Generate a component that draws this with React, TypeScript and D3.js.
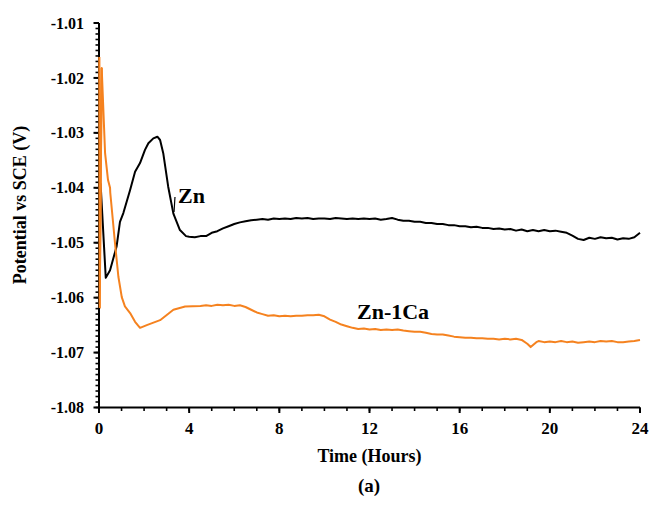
import React from "react";
import * as d3 from "d3";

// Open-circuit potential of Zn (black) and Zn-1Ca (orange) over 24 h
const zincHours = [
  0.07, 0.3, 0.49, 0.78, 0.93, 1.08, 1.38, 1.6, 1.82, 2.04, 2.19, 2.41, 2.59, 2.71,
  2.85, 3.07, 3.3, 3.59, 3.86,
  4.0, 4.25, 4.5, 4.75, 5.0, 5.25, 5.5, 5.75, 6.0, 6.25, 6.5, 6.75, 7.0, 7.25, 7.5, 7.75,
  8.0, 8.25, 8.5, 8.75, 9.0, 9.25, 9.5, 9.75, 10.0, 10.25, 10.5, 10.75, 11.0, 11.25, 11.5, 11.75,
  12.0, 12.25, 12.5, 12.75, 13.0, 13.25, 13.5, 13.75, 14.0, 14.25, 14.5, 14.75, 15.0, 15.25, 15.5, 15.75,
  16.0, 16.25, 16.5, 16.75, 17.0, 17.25, 17.5, 17.75, 18.0, 18.25, 18.5, 18.75, 19.0, 19.25, 19.5, 19.75,
  20.0, 20.25, 20.5, 20.75, 21.0, 21.25, 21.5, 21.75, 22.0, 22.25, 22.5, 22.75, 23.0, 23.25, 23.5, 23.75, 24.0,
];
const zincPotential = [
  -1.0392, -1.0564, -1.055, -1.0507, -1.0462, -1.0446, -1.0404, -1.0371, -1.0355, -1.0331, -1.0319, -1.031, -1.0307, -1.0313,
  -1.0337, -1.0398, -1.0447, -1.0477, -1.0488,
  -1.0489, -1.049, -1.0488, -1.0488, -1.0482, -1.0479, -1.0474, -1.047, -1.0466, -1.0463, -1.0461, -1.0459, -1.0458, -1.0457, -1.0458, -1.0456,
  -1.0457, -1.0456, -1.0457, -1.0455, -1.0456, -1.0455, -1.0457, -1.0456, -1.0456, -1.0457, -1.0455, -1.0456, -1.0457, -1.0456, -1.0457, -1.0456,
  -1.0457, -1.0456, -1.0458, -1.0457, -1.0455, -1.0458, -1.046, -1.046, -1.0462, -1.0462, -1.0464, -1.0464, -1.0466, -1.0466, -1.0468, -1.0468,
  -1.047, -1.047, -1.0472, -1.0471, -1.0473, -1.0473, -1.0475, -1.0474, -1.0476, -1.0475, -1.0478, -1.0476, -1.0479, -1.0477, -1.0479, -1.0477,
  -1.0479, -1.0478, -1.048, -1.0482, -1.0487, -1.0493, -1.0495, -1.0491, -1.0493, -1.049, -1.0492, -1.0491, -1.0494, -1.0492, -1.0493, -1.049, -1.0482,
];

const caHours = [
  0.01, 0.03, 0.12, 0.27, 0.4, 0.49, 0.5, 0.71, 0.86, 1.01, 1.15, 1.38, 1.6, 1.82, 2.12, 2.71, 3.3, 3.82,
  4.5, 4.75, 5.0, 5.25, 5.5, 5.75, 6.0, 6.25, 6.5, 6.75, 7.0, 7.25, 7.5, 7.75,
  8.0, 8.25, 8.5, 8.75, 9.0, 9.25, 9.5, 9.75, 10.0, 10.25, 10.5, 10.75, 11.0, 11.25, 11.5, 11.75,
  12.0, 12.25, 12.5, 12.75, 13.0, 13.25, 13.5, 13.75, 14.0, 14.25, 14.5, 14.75, 15.0, 15.25, 15.5, 15.75,
  16.0, 16.25, 16.5, 16.75, 17.0, 17.25, 17.5, 17.75, 18.0, 18.25, 18.5, 18.75, 19.0, 19.15, 19.4, 19.5, 19.75,
  20.0, 20.25, 20.5, 20.75, 21.0, 21.25, 21.5, 21.75, 22.0, 22.25, 22.5, 22.75, 23.0, 23.25, 23.5, 23.75, 24.0,
];
const caPotential = [
  -1.0162, -1.0619, -1.0182, -1.0337, -1.0386, -1.04, -1.0409, -1.0501, -1.0562, -1.0599, -1.0616, -1.0628, -1.0644, -1.0655, -1.065, -1.0641, -1.0622, -1.0616,
  -1.0615, -1.0614, -1.0615, -1.0613, -1.0614, -1.0613, -1.0615, -1.0614, -1.0617, -1.0622, -1.0627, -1.063, -1.0633, -1.0632,
  -1.0634, -1.0633, -1.0634, -1.0633, -1.0633, -1.0632, -1.0632, -1.0631, -1.0634, -1.064, -1.0644, -1.0649, -1.0652, -1.0655, -1.0657, -1.0656,
  -1.0658, -1.0657, -1.0659, -1.0658, -1.0659, -1.0658, -1.066, -1.0661, -1.0662, -1.0662, -1.0664, -1.0666, -1.0667, -1.0667, -1.0669, -1.0671,
  -1.0672, -1.0673, -1.0673, -1.0674, -1.0674, -1.0675, -1.0675, -1.0676, -1.0675, -1.0676, -1.0675, -1.0677, -1.0684, -1.069, -1.0681, -1.0679, -1.0681,
  -1.068, -1.0681, -1.0679, -1.0681, -1.068, -1.0682, -1.0681, -1.068, -1.0681, -1.0679, -1.068, -1.0679, -1.0681, -1.0681, -1.068, -1.0679, -1.0677,
];

const xMajorTicks = [0, 4, 8, 12, 16, 20, 24];
const yMajorTicks = [-1.08, -1.07, -1.06, -1.05, -1.04, -1.03, -1.02, -1.01];

const W = 651;
const H = 505;
const FONT = "'Liberation Serif', 'Times New Roman', serif";
const ORANGE = "#f5821f";

export default function App() {
  const x = d3.scaleLinear().domain([0, 24]).range([99, 640]);
  const y = d3.scaleLinear().domain([-1.08, -1.01]).range([407.5, 23]);

  const line = d3
    .line<[number, number]>()
    .x((d) => x(d[0]))
    .y((d) => y(d[1]));

  const zinc = zincHours.map((t, i) => [t, zincPotential[i]] as [number, number]);
  const ca = caHours.map((t, i) => [t, caPotential[i]] as [number, number]);

  const xMinor = d3.range(0, 25, 1);
  const yMinor = d3.range(0, 71).map((k) => -1.08 + k * 0.001);

  const x0 = x(0);
  const yBase = y(-1.08);

  return (
    <svg
      width={W}
      height={H}
      style={{ position: "absolute", left: 0, top: 0, background: "#fff" }}
      fontFamily={FONT}
    >
      <rect width={W} height={H} fill="#fff" />

      {/* data lines */}
      <path d={line(zinc) ?? ""} fill="none" stroke="#000" strokeWidth={2} strokeLinejoin="round" />
      <path d={line(ca) ?? ""} fill="none" stroke={ORANGE} strokeWidth={2} strokeLinejoin="round" />

      {/* y axis */}
      {yMinor.map((v, i) => (
        <line key={"ym" + i} x1={x0 - 3.5} x2={x0} y1={y(v)} y2={y(v)} stroke="#000" strokeWidth={1.6} />
      ))}
      {yMajorTicks.map((v) => (
        <g key={"yM" + v}>
          <line x1={x0 - 5.5} x2={x0} y1={y(v)} y2={y(v)} stroke="#000" strokeWidth={2} />
          <text
            x={84}
            y={y(v)}
            dy="0.35em"
            textAnchor="end"
            fontSize={16}
            fontWeight="bold"
          >
            {v.toFixed(2)}
          </text>
        </g>
      ))}

      {/* x axis */}
      {xMinor.map((t) => (
        <line key={"xm" + t} x1={x(t)} x2={x(t)} y1={yBase} y2={yBase + 3.5} stroke="#000" strokeWidth={1.6} />
      ))}
      {xMajorTicks.map((t) => (
        <g key={"xM" + t}>
          <line x1={x(t)} x2={x(t)} y1={yBase} y2={yBase + 5.5} stroke="#000" strokeWidth={2} />
          <text x={x(t)} y={434} textAnchor="middle" fontSize={17} fontWeight="bold">
            {t}
          </text>
        </g>
      ))}

      <line x1={x0} x2={x0} y1={y(-1.01)} y2={yBase + 1} stroke="#000" strokeWidth={2} />
      <line x1={x0 - 1} x2={x(24)} y1={yBase} y2={yBase} stroke="#000" strokeWidth={2} />

      {/* orange start spike sits over the axis line */}
      <path d={line(ca.slice(0, 3)) ?? ""} fill="none" stroke={ORANGE} strokeWidth={2} />

      {/* series labels */}
      <line x1={175} x2={174} y1={197} y2={212} stroke="#000" strokeWidth={1.2} />
      <text x={178} y={203} fontSize={22} fontWeight="bold">
        Zn
      </text>
      <text x={357} y={318.5} fontSize={22} fontWeight="bold">
        Zn-1Ca
      </text>

      {/* axis titles */}
      <text x={369.5} y={462} textAnchor="middle" fontSize={18} fontWeight="bold">
        Time (Hours)
      </text>
      <text x={369} y={492} textAnchor="middle" fontSize={19} fontWeight="bold">
        (a)
      </text>
      <text
        transform={`translate(26, 205) rotate(-90)`}
        textAnchor="middle"
        fontSize={18}
        fontWeight="bold"
      >
        Potential vs SCE (V)
      </text>
    </svg>
  );
}
